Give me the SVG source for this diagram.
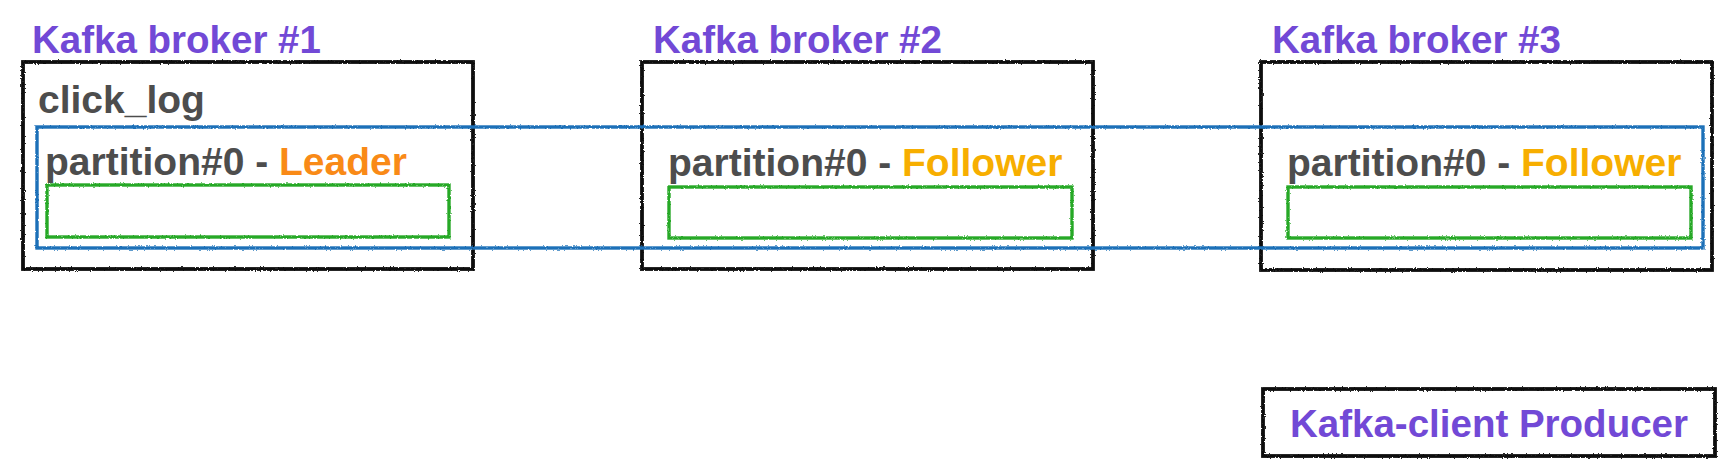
<svg xmlns="http://www.w3.org/2000/svg" width="1727" height="474" viewBox="0 0 1727 474">
<defs>
<filter id="rough" x="-5%" y="-5%" width="110%" height="110%">
<feTurbulence type="fractalNoise" baseFrequency="0.6" numOctaves="2" seed="3" result="n"/>
<feDisplacementMap in="SourceGraphic" in2="n" scale="2.5" xChannelSelector="R" yChannelSelector="G"/>
</filter>
<style>
.t{font-family:"Liberation Sans",Arial,sans-serif;font-weight:bold}
.title{font-size:38.5px;fill:#7249d6}
.gray{font-size:39px;fill:#4d4d4d}
.lead{fill:#f98a17}
.foll{fill:#f7ae00}
.box{fill:none;stroke:#111;stroke-width:3.8;filter:url(#rough)}
.part{fill:none;stroke:#1f6fb8;stroke-width:3.4;filter:url(#rough)}
.seg{fill:none;stroke:#28a928;stroke-width:3.4;filter:url(#rough)}
</style>
</defs>
<rect width="1727" height="474" fill="#fff"/>
<g id="broker1">
<text class="t title" x="32" y="53">Kafka broker #1</text>
<rect class="box" x="23" y="62" width="450" height="207"/>
<text class="t gray" x="38" y="113">click_log</text>
<text class="t gray" x="45" y="175">partition#0 - <tspan class="lead">Leader</tspan></text>
<rect class="seg" x="47" y="185" width="402" height="52"/>
</g>
<g id="broker2">
<text class="t title" x="653" y="53">Kafka broker #2</text>
<rect class="box" x="642" y="62" width="451" height="207"/>
<text class="t gray" x="668" y="176">partition#0 - <tspan class="foll">Follower</tspan></text>
<rect class="seg" x="669" y="187" width="403" height="51"/>
</g>
<g id="broker3">
<text class="t title" x="1272" y="53">Kafka broker #3</text>
<rect class="box" x="1261" y="62" width="451" height="208"/>
<text class="t gray" x="1287" y="176">partition#0 - <tspan class="foll">Follower</tspan></text>
<rect class="seg" x="1288" y="187" width="403" height="51"/>
</g>
<g id="partition0">
<rect class="part" x="37" y="127" width="1666" height="121"/>
</g>
<g id="producer">
<rect class="box" x="1263" y="389" width="452" height="67"/>
<text class="t title" x="1290" y="437" style="font-size:38.5px">Kafka-client Producer</text>
</g>
<g id="connectors"/>
</svg>
